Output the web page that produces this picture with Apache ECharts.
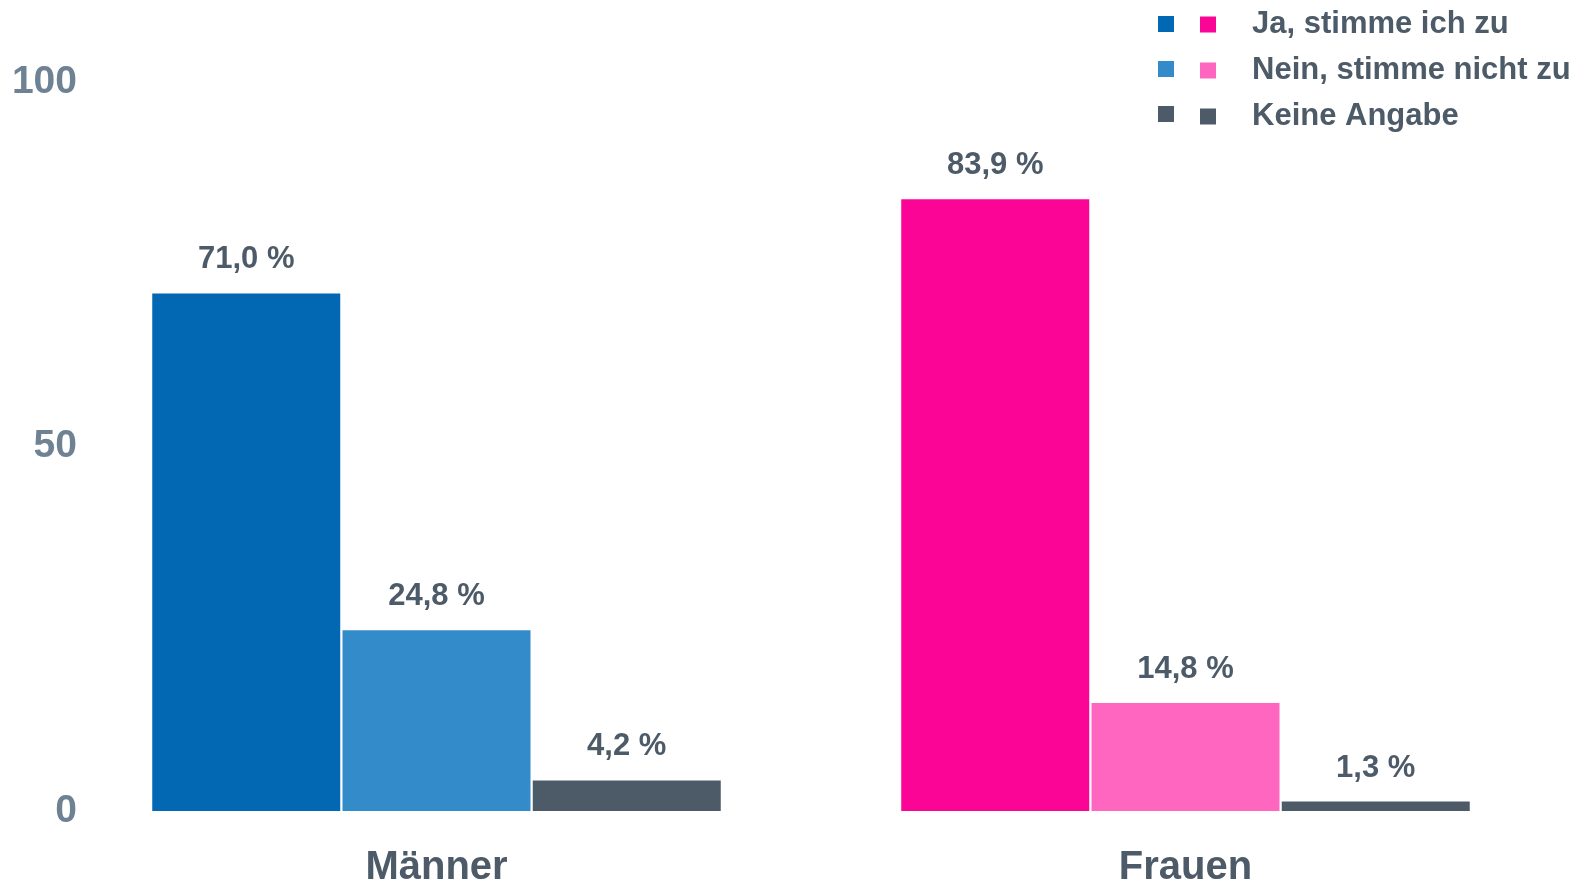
<!DOCTYPE html>
<html>
<head>
<meta charset="utf-8">
<script src="https://cdn.jsdelivr.net/npm/echarts@6/dist/echarts.min.js"></script>
<style>
  html, body { margin: 0; padding: 0; background: #fff; }
  #chart { width: 1589px; height: 885px; }
</style>
</head>
<body>
<div id="chart"></div>
<script>
  let categories = ['Männer', 'Frauen']
  let seriesNames = ['Ja, stimme ich zu', 'Nein, stimme nicht zu', 'Keine Angabe']
  let ja = [71.0, 83.9]
  let nein = [24.8, 14.8]
  let keine = [4.2, 1.3]
  let yTicks = [0, 50, 100]

  // Farben je Serie: [Männer, Frauen]
  let colors = [['#0368b4', '#fb0596'], ['#348bc9', '#ff66c0'], ['#4d5b69', '#4d5b69']]
  let textColor = '#4d5b69'
  let font = "'Liberation Sans', Arial, sans-serif"

  let myChart = echarts.init(document.getElementById('chart'))
  let values = [ja, nein, keine]
  let series = []
  seriesNames.forEach((name, index) => {
    series.push({
      name: name,
      type: 'bar',
      barWidth: 188,
      barGap: '1.2%',
      data: values[index].map((v, i) => ({value: v, itemStyle: {color: colors[index][i]}})),
      itemStyle: {color: colors[index][0]},
      label: {
        show: true,
        position: 'top',
        distance: 18,
        color: textColor,
        fontSize: 31,
        fontWeight: 'bold',
        fontFamily: font,
        formatter: p => p.value.toFixed(1).replace('.', ',') + ' %'
      }
    })
  })

  let option = {
    animation: false,
    grid: {left: 62, right: 29, top: 82, bottom: 74, containLabel: false, outerBoundsMode: 'none'},
    legend: [
      {
        orient: 'vertical',
        left: 1153,
        top: 11,
        icon: 'rect',
        itemWidth: 16,
        itemHeight: 16,
        itemGap: 29,
        selectedMode: false,
        formatter: () => '',
        data: seriesNames.map((n, i) => ({name: n, itemStyle: {color: colors[i][0]}}))
      },
      {
        orient: 'vertical',
        left: 1195,
        top: 4,
        icon: 'rect',
        itemWidth: 16,
        itemHeight: 16,
        itemGap: 15,
        selectedMode: false,
        textStyle: {color: textColor, fontSize: 31, fontWeight: 'bold', fontFamily: font, lineHeight: 30, padding: [0, 0, 0, 31]},
        data: seriesNames.map((n, i) => ({name: n, itemStyle: {color: colors[i][1]}}))
      }
    ],
    xAxis: {
      type: 'category',
      data: categories,
      axisLine: {show: false},
      axisTick: {show: false},
      axisLabel: {color: textColor, fontSize: 40, fontWeight: 'bold', fontFamily: font, margin: 37}
    },
    yAxis: {
      type: 'value',
      min: yTicks[0],
      max: yTicks[yTicks.length - 1],
      interval: yTicks[1] - yTicks[0],
      splitLine: {show: false},
      axisLine: {show: false},
      axisTick: {show: false},
      axisLabel: {color: '#6e8293', fontSize: 39, fontWeight: 'bold', fontFamily: font, margin: -15, padding: [10, 0, 0, 0]}
    },
    series: series
  }
  myChart.setOption(option)
</script>
</body>
</html>
